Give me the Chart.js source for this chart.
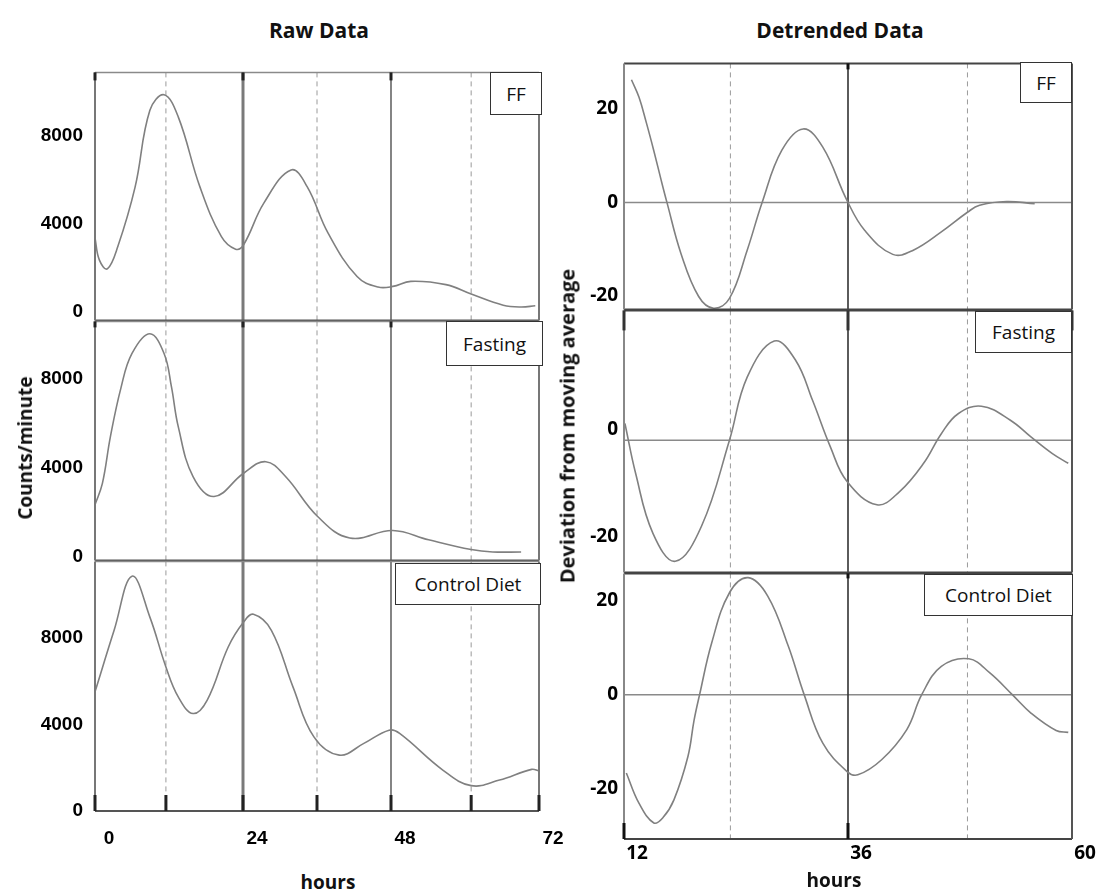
<!DOCTYPE html>
<html><head><meta charset="utf-8">
<script src="https://cdn.jsdelivr.net/npm/chart.js@4.4.1/dist/chart.umd.min.js"></script>
<style>
html,body{margin:0;padding:0;background:#fff;}
body{width:1103px;height:894px;position:relative;overflow:hidden;font-family:"Open Sans",sans-serif;}
canvas{position:absolute;}
.t{position:absolute;font-weight:bold;color:#111;white-space:nowrap;transform:translate(-50%,-50%);z-index:5;}
.rot{transform:translate(-50%,-50%) rotate(-90deg);}
.box{position:absolute;background:#fff;border:1px solid #333;box-sizing:border-box;display:flex;align-items:center;justify-content:center;font-size:19px;color:#111;z-index:5;}
</style></head><body>
<div class="t" style="left:319px;top:30px;font-size:21px;">Raw Data</div>
<div class="t" style="left:840px;top:30px;font-size:21px;">Detrended Data</div>
<div class="t rot" style="left:25px;top:448px;font-size:19px;">Counts/minute</div>
<div class="t rot" style="left:567px;top:426px;font-size:20px;">Deviation from moving average</div>
<div class="t" style="left:328px;top:882px;font-size:19px;">hours</div>
<div class="t" style="left:834px;top:880px;font-size:19px;">hours</div>
<div class="box" style="left:490px;top:72px;width:52px;height:43px;">FF</div>
<div class="box" style="left:446px;top:321px;width:97px;height:45px;">Fasting</div>
<div class="box" style="left:395px;top:563px;width:146px;height:42px;">Control Diet</div>
<div class="box" style="left:1020px;top:62px;width:52px;height:41px;">FF</div>
<div class="box" style="left:975px;top:311px;width:97px;height:42px;">Fasting</div>
<div class="box" style="left:924px;top:574px;width:149px;height:42px;">Control Diet</div>
<script>
// ---------- DATA ----------
const rawTicksX = [0, 24, 48, 72];
const rawTicksY = [0, 4000, 8000];
const detTicksX = [12, 36, 60];
const detTicksYFF = [-20, 0, 20];
const detTicksYFasting = [-20, 0];
const detTicksYControl = [-20, 0, 20];

const rawSolidHours = [24, 48];
const rawDashedHours = [11.5, 36, 61];
const detSolidHours = [36];
const detDashedHours = [23.4, 48.8];

const rawHoursFF = [0,0.7,2.0,3.7,6.5,8.9,11.2,13.5,17.0,20.5,22.8,24.1,27.4,31.8,34.4,37.8,42.5,45.9,48.3,51.2,56.9,61.0,66.2,69.1,71.4];
const rawCountsFF = [3360,2360,1950,2970,5680,9180,9890,8880,5700,3420,2850,3050,4960,6460,5700,3580,1600,1120,1150,1380,1230,800,290,210,270];

const rawHoursFasting = [0,1.2,2.5,4.2,6.0,8.9,11.2,12.4,13.5,15.9,19.3,24.1,27.7,30.9,36.1,41.3,48.3,54.1,61.0,64.5,69.1];
const rawCountsFasting = [2340,3300,5410,7600,9160,10050,9160,7650,5860,3610,2710,3760,4280,3610,1810,840,1180,760,320,210,210];

const rawHoursControl = [0,3.1,6.0,8.9,11.5,13.5,15.9,18.2,21.6,24.1,25.7,28.6,32.1,35.5,39.6,43.6,47.7,49.4,56.4,61.0,65.6,70.8,72];
const rawCountsControl = [5500,8340,10840,8950,6650,5270,4500,5120,7570,8720,9080,8340,5730,3420,2580,3120,3730,3580,1890,1170,1430,1920,1850];

const detHoursFF = [12.8,13.6,14.4,15.2,16.0,16.6,18.1,20.0,21.6,23.3,25.2,26.8,28.9,31.2,33.3,35.9,37.8,40.8,43.0,46.0,48.8,50.1,53.0,56.0];
const detDevFF = [26.2,22.5,17.0,11.0,4.6,0,-10.9,-20.1,-22.6,-20.5,-10.2,0,11.1,15.7,11.8,0.4,-6,-11.1,-10.2,-6.3,-2.1,-0.6,0.2,-0.3];

const detHoursFasting = [12.1,13.25,15.1,17.5,20.3,23.3,25.2,28.1,30.4,32.2,34.1,35.9,39.1,41.5,44.1,46.0,47.8,50.3,53.4,55.6,57.9,59.6];
const detDevFasting = [3.1,-6.2,-17.3,-22.5,-16,0,11.7,18.4,14.8,7.4,-1.2,-7.7,-12,-9.6,-4.3,1.2,4.9,6.3,3.7,0.6,-2.5,-4.3];

const detHoursControl = [12.25,13.6,15.2,16.2,17.35,18.85,19.5,20.1,21.4,23.3,25.3,27.4,29.6,31.3,33.3,35.9,37.05,39.6,42.3,43.9,46.0,48.95,51.2,53.6,55.6,58.3,59.6];
const detDevControl = [-16.6,-23,-27.2,-26.0,-22.3,-13.1,-5.5,0,11,21.6,24.8,20.9,10.3,0,-10.3,-16.3,-17,-13.8,-7.4,0,6,7.6,4.6,0,-3.9,-7.6,-8];

// ---------- DECORATION PLUGIN ----------
function seg(ctx, x1, y1, x2, y2, color, width, dash) {
  ctx.save();
  ctx.strokeStyle = color; ctx.lineWidth = width;
  ctx.setLineDash(dash || []);
  ctx.beginPath(); ctx.moveTo(x1, y1); ctx.lineTo(x2, y2); ctx.stroke();
  ctx.restore();
}
const decor = {
  id: 'decor',
  beforeDatasetsDraw(chart, args, o) {
    const {ctx, chartArea: a, scales: {x, y}} = chart;
    if (o.zero) { const py = y.getPixelForValue(0); seg(ctx, a.left, py, a.right, py, o.zero.color, o.zero.width); }
    o.dashed.hours.forEach(h => { const px = x.getPixelForValue(h); seg(ctx, px, a.top, px, a.bottom, o.dashed.color, o.dashed.width, o.dashed.dash); });
    o.solid.forEach(s => { const px = x.getPixelForValue(s.h); seg(ctx, px, a.top, px, a.bottom, s.color, s.width); });
  },
  afterDatasetsDraw(chart, args, o) {
    const {ctx, chartArea: a, scales: {x}} = chart;
    const b = o.borders;
    seg(ctx, a.left, a.top, a.right, a.top, b.top.c, b.top.w);
    seg(ctx, a.left, a.bottom, a.right, a.bottom, b.bottom.c, b.bottom.w);
    seg(ctx, a.left, a.top, a.left, a.bottom, b.left.c, b.left.w);
    seg(ctx, a.right, a.top, a.right, a.bottom, b.right.c, b.right.w);
    const tm = o.marks;
    (tm.top || []).forEach(h => { const px = x.getPixelForValue(h); seg(ctx, px, a.top, px, a.top + tm.topLen, tm.color, tm.width); });
    (tm.bottom || []).forEach(h => { const px = x.getPixelForValue(h); seg(ctx, px, a.bottom - tm.bottomLen, px, a.bottom, tm.color, tm.width); });
  }
};

// ---------- PANELS ----------
function panelConfig(p) {
  const pts = p.hours.map((h, i) => ({x: h, y: p.vals[i]}));
  const xs = {type: 'linear', min: p.xmin, max: p.xmax, display: p.bottom,
    grid: {display: false, drawTicks: false}, border: {display: false},
    ticks: {color: '#000', font: p.xfont, padding: p.xpad, labelOffset: p.xlo,
      autoSkip: false, maxRotation: 0, callback: v => String(v)},
    afterBuildTicks: s => { s.ticks = p.xticks.map(v => ({value: v})); }};
  if (p.bottom) xs.afterFit = s => { s.height = p.xh; };
  return {
    type: 'line',
    data: {datasets: [{data: pts, borderColor: '#808080', borderWidth: 1.6, pointRadius: 0,
      tension: 0.4, fill: false}]},
    options: {
      responsive: false, maintainAspectRatio: false, animation: false, events: [],
      layout: {padding: {top: 12, right: p.pr, bottom: p.bottom ? 0 : 12, left: 0}},
      plugins: {legend: {display: false}, tooltip: {enabled: false}, decor: p.decor},
      scales: {
        x: xs,
        y: {type: 'linear', min: p.ymin, max: p.ymax,
          grid: {display: false, drawTicks: false}, border: {display: false},
          ticks: {color: '#000', font: p.yfont, padding: p.ypad, labelOffset: p.ylo || 0,
            autoSkip: false, callback: v => String(v)},
          afterBuildTicks: s => { s.ticks = p.yticks.map(v => ({value: v})); },
          afterFit: s => { s.width = p.yw; }}
      }
    },
    plugins: [decor]
  };
}
function sizeCanvas(cv, W, H) {
  cv.width = W; cv.height = H;
  cv.style.width = W + 'px'; cv.style.height = H + 'px';
}
function makePanel(p) {
  const cv = document.createElement('canvas');
  document.body.appendChild(cv);
  let W = p.yw + p.w + p.pr;
  let H = 24 + p.h + (p.bottom ? p.xh : 0);
  sizeCanvas(cv, W, H);
  let ch = new Chart(cv.getContext('2d'), panelConfig(p));
  let a = ch.chartArea;
  const dW = p.w - (a.right - a.left), dH = p.h - (a.bottom - a.top);
  ch.destroy();
  W += dW; H += dH;
  sizeCanvas(cv, W, H);
  ch = new Chart(cv.getContext('2d'), panelConfig(p));
  a = ch.chartArea;
  cv.style.left = (p.left - a.left) + 'px';
  cv.style.top = (p.top - a.top) + 'px';
}

const leftFont = {family: 'Liberation Sans', weight: 'bold', size: 19};
const rightFont = {family: 'Open Sans', weight: 'bold', size: 19};
const dashL = {hours: rawDashedHours, color: '#9a9a9a', width: 1, dash: [5, 4]};
const dashR = {hours: detDashedHours, color: '#9a9a9a', width: 1, dash: [5, 4]};
const solidL = [{h: rawSolidHours[0], color: '#7a7a7a', width: 3}, {h: rawSolidHours[1], color: '#333', width: 1.2}];
const solidR = [{h: detSolidHours[0], color: '#333', width: 1.6}];
const bordL = {top: {c: '#8a8a8a', w: 1.5}, bottom: {c: '#555', w: 2}, left: {c: '#777', w: 2}, right: {c: '#777', w: 2}};
const bordR = {top: {c: '#444', w: 2}, bottom: {c: '#444', w: 2}, left: {c: '#888', w: 2}, right: {c: '#555', w: 2}};

const L = {left: 95, w: 444, yw: 90, pr: 30, xmin: 0, xmax: 72, xticks: rawTicksX, yticks: rawTicksY,
  xfont: leftFont, yfont: leftFont, xpad: 16, ypad: 12, xlo: 14, xh: 50};
const R = {left: 624, w: 448, yw: 60, pr: 30, xmin: 12, xmax: 60, xticks: detTicksX,
  xfont: rightFont, yfont: rightFont, xpad: 3, ypad: 6, xlo: 13, xh: 40};

makePanel(Object.assign({}, L, {top: 72, h: 249, ymin: -409, ymax: 10909, hours: rawHoursFF, vals: rawCountsFF, bottom: false,
  decor: {dashed: dashL, solid: solidL, borders: bordL, marks: {top: rawTicksX, topLen: 8, color: '#222', width: 3}}}));
makePanel(Object.assign({}, L, {top: 321, h: 240, ymin: -180, ymax: 10607, hours: rawHoursFasting, vals: rawCountsFasting, bottom: false,
  decor: {dashed: dashL, solid: solidL, borders: bordL, marks: {top: rawTicksX, topLen: 6, color: '#222', width: 3}}}));
makePanel(Object.assign({}, L, {top: 561, h: 250, ymin: 0, ymax: 11521, hours: rawHoursControl, vals: rawCountsControl, bottom: true,
  decor: {dashed: dashL, solid: solidL, borders: bordL, marks: {bottom: rawTicksX.concat(rawDashedHours), bottomLen: 16, color: '#222', width: 3}}}));

makePanel(Object.assign({}, R, {top: 63, h: 247, ymin: -22.9, ymax: 29.7, yticks: detTicksYFF, hours: detHoursFF, vals: detDevFF, bottom: false,
  decor: {zero: {color: '#8a8a8a', width: 1.5}, dashed: dashR, solid: solidR, borders: bordR, marks: {top: detSolidHours, topLen: 6, color: '#111', width: 3}}}));
makePanel(Object.assign({}, R, {top: 310, h: 263, ymin: -24.6, ymax: 24.1, yticks: detTicksYFasting, ylo: -11, hours: detHoursFasting, vals: detDevFasting, bottom: false,
  decor: {zero: {color: '#8a8a8a', width: 1.5}, dashed: dashR, solid: solidR, borders: bordR, marks: {top: [detTicksX[0], detSolidHours[0], detTicksX[2]], topLen: 20, color: '#333', width: 3}}}));
makePanel(Object.assign({}, R, {top: 573, h: 266, ymin: -30.6, ymax: 25.7, yticks: detTicksYControl, hours: detHoursControl, vals: detDevControl, bottom: true,
  decor: {zero: {color: '#8a8a8a', width: 1.5}, dashed: dashR, solid: solidR, borders: bordR, marks: {top: detSolidHours, topLen: 5, bottom: [detTicksX[0], detSolidHours[0]], bottomLen: 16, color: '#111', width: 3}}}));
</script>
</body></html>
